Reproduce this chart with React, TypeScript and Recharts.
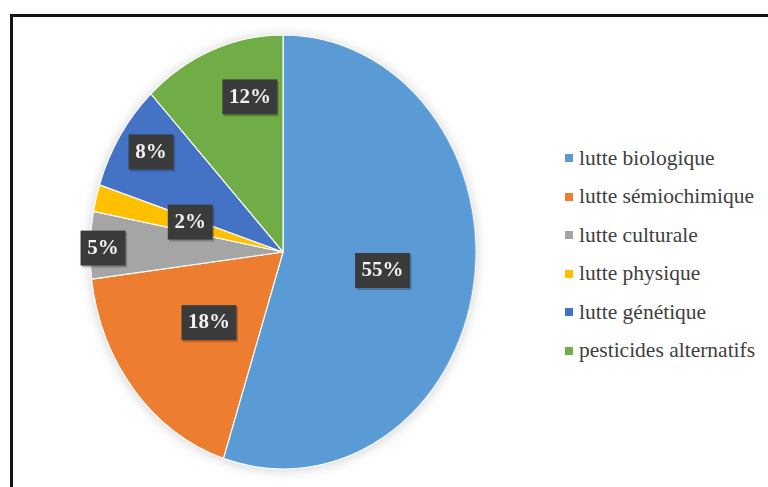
import { PieChart, Pie, Cell, Legend } from 'recharts';

const categories = [
  'lutte biologique',
  'lutte sémiochimique',
  'lutte culturale',
  'lutte physique',
  'lutte génétique',
  'pesticides alternatifs',
];
const shares = [55, 18, 5, 2, 8, 12];
const colors = ['#5B9BD5', '#ED7D31', '#A5A5A5', '#FFC000', '#4472C4', '#70AD47'];

const data = categories.map((name, i) => ({ name, value: shares[i], color: colors[i] }));

const FONT = "'Liberation Serif', serif";

// pie is slightly squeezed horizontally in the original
const SX = 0.889;
const CX = 283;
const CY = 252;
const R = 217;

// label anchor: fraction of radius, angle clockwise from 12 o'clock
const labelSpots = [
  [0.523, 99.4],
  [0.503, 229.7],
  [0.933, 271.1],
  [0.5, 286],
  [0.825, 304],
  [0.735, 346.5],
];

const renderLabel = (props: any) => {
  const { cx, cy, outerRadius, index, value } = props;
  const [f, deg] = labelSpots[index];
  const a = (deg * Math.PI) / 180;
  const r = outerRadius * f;
  const x = cx + r * Math.sin(a) * SX;
  const y = cy - r * Math.cos(a);
  const txt = `${value}%`;
  const w = 10 * txt.length + 25;
  const h = 35;
  return (
    <g key={`lbl-${index}`}>
      <rect x={x - w / 2 + 1.5} y={y - h / 2 + 2} width={w} height={h} fill="rgba(0,0,0,0.22)" />
      <rect x={x - w / 2} y={y - h / 2} width={w} height={h} fill="#3b3b3b" />
      <text
        x={x}
        y={y + 1}
        textAnchor="middle"
        dominantBaseline="middle"
        fill="#f2f2f2"
        fontFamily={FONT}
        fontWeight="bold"
        fontSize={21}
      >
        {txt}
      </text>
    </g>
  );
};

const renderLegend = () => (
  <div style={{ fontFamily: FONT, fontSize: 21.5, color: '#404040' }}>
    {data.map((d) => (
      <div key={d.name} style={{ display: 'flex', alignItems: 'center', height: 38.5, whiteSpace: 'nowrap' }}>
        <span style={{ width: 8, height: 8, background: d.color, marginRight: 6, display: 'inline-block' }} />
        <span>{d.name}</span>
      </div>
    ))}
  </div>
);

export default function App() {
  return (
    <div style={{ position: 'fixed', left: 0, top: 0, width: 768, height: 487, background: '#fff', overflow: 'hidden', fontFamily: FONT }}>
      <style>{`
        .squeeze .recharts-sector { transform: scaleX(${SX}); transform-origin: ${CX}px ${CY}px; }
        .squeeze .recharts-pie { filter: drop-shadow(0 1px 6px rgba(0,0,0,0.18)); }
      `}</style>
      <div
        style={{
          position: 'absolute',
          left: 10,
          top: 14,
          width: 900,
          height: 600,
          borderTop: '3px solid #151515',
          borderLeft: '3px solid #151515',
        }}
      />
      <div className="squeeze" style={{ position: 'absolute', left: 0, top: 0 }}>
        <PieChart width={768} height={487} margin={{ top: 0, right: 0, bottom: 0, left: 0 }}>
          <Pie
            data={data}
            dataKey="value"
            nameKey="name"
            cx={CX}
            cy={CY}
            outerRadius={R}
            startAngle={90}
            endAngle={-270}
            stroke="#ffffff"
            strokeWidth={1.2}
            labelLine={false}
            label={renderLabel}
            isAnimationActive={false}
          >
            {data.map((d, i) => (
              <Cell key={`cell-${i}`} fill={d.color} />
            ))}
          </Pie>
          <Legend
            content={renderLegend}
            wrapperStyle={{ position: 'absolute', left: 565, top: 139, width: 200 }}
          />
        </PieChart>
      </div>
    </div>
  );
}
